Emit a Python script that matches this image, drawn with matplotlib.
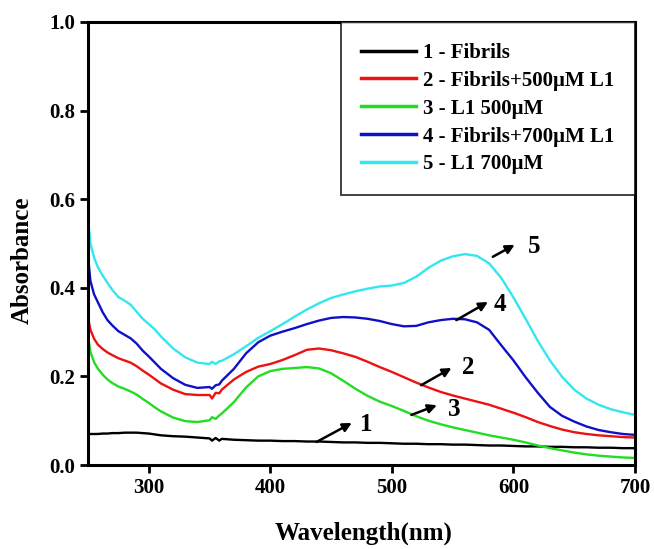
import matplotlib.pyplot as plt

plt.rcParams["font.family"] = ["Liberation Serif", "DejaVu Serif"]
plt.rcParams["font.weight"] = "bold"

# Longitudes de onda (nm)
wl = [250, 252, 255, 258, 262, 266, 270, 275, 280, 285, 290, 295, 300, 305, 310,
      320, 330, 340, 350, 352, 355, 358, 360, 370, 380, 390, 400, 410, 420, 430,
      440, 450, 460, 470, 480, 490, 500, 510, 520, 530, 540, 550, 560, 570, 580,
      590, 600, 610, 620, 630, 640, 650, 660, 670, 680, 690, 700]

fibrils = [0.070, 0.070, 0.070, 0.070, 0.071, 0.071, 0.072, 0.072, 0.073, 0.073,
           0.073, 0.072, 0.071, 0.069, 0.067, 0.065, 0.064, 0.062, 0.060, 0.055,
           0.061, 0.055, 0.059, 0.057, 0.056, 0.055, 0.055, 0.054, 0.054, 0.053,
           0.053, 0.052, 0.051, 0.051, 0.050, 0.050, 0.049, 0.048, 0.048, 0.047,
           0.047, 0.046, 0.046, 0.045, 0.044, 0.044, 0.043, 0.042, 0.042, 0.041,
           0.041, 0.040, 0.040, 0.039, 0.039, 0.038, 0.038]

fib_500 = [0.332, 0.305, 0.285, 0.272, 0.262, 0.254, 0.248, 0.241, 0.236, 0.231,
           0.223, 0.213, 0.204, 0.194, 0.184, 0.170, 0.160, 0.158, 0.158, 0.150,
           0.163, 0.162, 0.170, 0.193, 0.210, 0.222, 0.228, 0.237, 0.248, 0.260,
           0.263, 0.259, 0.252, 0.244, 0.233, 0.221, 0.210, 0.198, 0.186, 0.175,
           0.165, 0.157, 0.150, 0.143, 0.136, 0.127, 0.118, 0.108, 0.097, 0.088,
           0.080, 0.074, 0.070, 0.067, 0.065, 0.063, 0.062]

l1_500 = [0.289, 0.255, 0.232, 0.218, 0.204, 0.193, 0.185, 0.177, 0.172, 0.166,
          0.159, 0.149, 0.140, 0.130, 0.121, 0.107, 0.099, 0.097, 0.101, 0.108,
          0.104, 0.112, 0.116, 0.142, 0.175, 0.200, 0.212, 0.217, 0.219, 0.221,
          0.218, 0.207, 0.190, 0.172, 0.156, 0.143, 0.133, 0.122, 0.110, 0.100,
          0.092, 0.085, 0.079, 0.073, 0.067, 0.062, 0.057, 0.051, 0.044, 0.038,
          0.033, 0.028, 0.024, 0.021, 0.019, 0.017, 0.016]

fib_700 = [0.470, 0.415, 0.385, 0.368, 0.345, 0.327, 0.315, 0.302, 0.294, 0.286,
           0.274, 0.258, 0.245, 0.231, 0.217, 0.196, 0.181, 0.174, 0.176, 0.172,
           0.180, 0.182, 0.190, 0.217, 0.252, 0.277, 0.292, 0.301, 0.309, 0.318,
           0.326, 0.332, 0.334, 0.333, 0.330, 0.325, 0.318, 0.313, 0.314, 0.322,
           0.327, 0.330, 0.329, 0.322, 0.305, 0.270, 0.236, 0.198, 0.163, 0.131,
           0.111, 0.098, 0.087, 0.079, 0.074, 0.070, 0.068]

l1_700 = [0.553, 0.500, 0.468, 0.447, 0.428, 0.411, 0.395, 0.379, 0.371, 0.362,
          0.346, 0.330, 0.318, 0.306, 0.290, 0.263, 0.243, 0.231, 0.228, 0.233,
          0.228, 0.234, 0.235, 0.250, 0.268, 0.287, 0.302, 0.318, 0.335, 0.351,
          0.365, 0.377, 0.385, 0.392, 0.398, 0.403, 0.405, 0.411, 0.425, 0.445,
          0.461, 0.471, 0.476, 0.472, 0.455, 0.422, 0.378, 0.330, 0.280, 0.236,
          0.199, 0.170, 0.150, 0.136, 0.126, 0.119, 0.113]

etiquetas = ["1 - Fibrils", "2 - Fibrils+500\u03bcM L1", "3 - L1 500\u03bcM",
             "4 - Fibrils+700\u03bcM L1", "5 - L1 700\u03bcM"]
colores = ["#000000", "#ee1111", "#22dd22", "#1010c8", "#33e6ef"]
series = [fibrils, fib_500, l1_500, fib_700, l1_700]

# flechas: numero, (cola), (punta), posicion del numero
flechas = [
    ("1", (438, 0.052), (467, 0.095), (474, 0.092)),
    ("2", (524, 0.180), (549, 0.219), (558, 0.220)),
    ("3", (516, 0.113), (537, 0.135), (546, 0.126)),
    ("4", (553, 0.327), (579, 0.368), (584, 0.362)),
    ("5", (583, 0.470), (601, 0.497), (612, 0.494)),
]

fig = plt.figure(figsize=(6.54, 5.49), dpi=100)
ax = fig.add_axes([0.1346, 0.153, 0.8364, 0.807])

for y, c, lab in zip(series, colores, etiquetas):
    ax.plot(wl, y, color=c, lw=1.7, label=lab)

for num, cola, punta, pos in flechas:
    ax.annotate("", xy=punta, xytext=cola,
                arrowprops=dict(arrowstyle="-|>", color="black", lw=1.8,
                                mutation_scale=13, shrinkA=0, shrinkB=0))
    ax.text(pos[0], pos[1], num, fontsize=18, fontweight="bold",
            ha="left", va="center")

ax.set_xlim(250, 700)
ax.set_ylim(0, 1.0)
ax.set_xticks([300, 400, 500, 600, 700])
ax.set_yticks([0.0, 0.2, 0.4, 0.6, 0.8, 1.0])
ax.set_yticklabels(["0.0", "0.2", "0.4", "0.6", "0.8", "1.0"])
ax.tick_params(direction="out", length=6, width=2, labelsize=15, pad=3)
for sp in ax.spines.values():
    sp.set_linewidth(2.2)

ax.set_xlabel("Wavelength(nm)", fontsize=18, fontweight="bold")
ax.set_ylabel("Absorbance", fontsize=18, fontweight="bold")
ax.xaxis.set_label_coords(0.503, -0.127)
ax.yaxis.set_label_coords(-0.10, 0.463)

leg = ax.legend(loc="upper right", bbox_to_anchor=(1.0, 1.0), borderaxespad=0,
                fontsize=15, frameon=True, fancybox=False, handlelength=2.6,
                handletextpad=0.35, labelspacing=0.38, borderpad=1.0)
leg.get_frame().set_edgecolor("black")
leg.get_frame().set_linewidth(1.3)
for h in leg.get_lines():
    h.set_linewidth(2.5)

fig.savefig("out.png", dpi=100)
